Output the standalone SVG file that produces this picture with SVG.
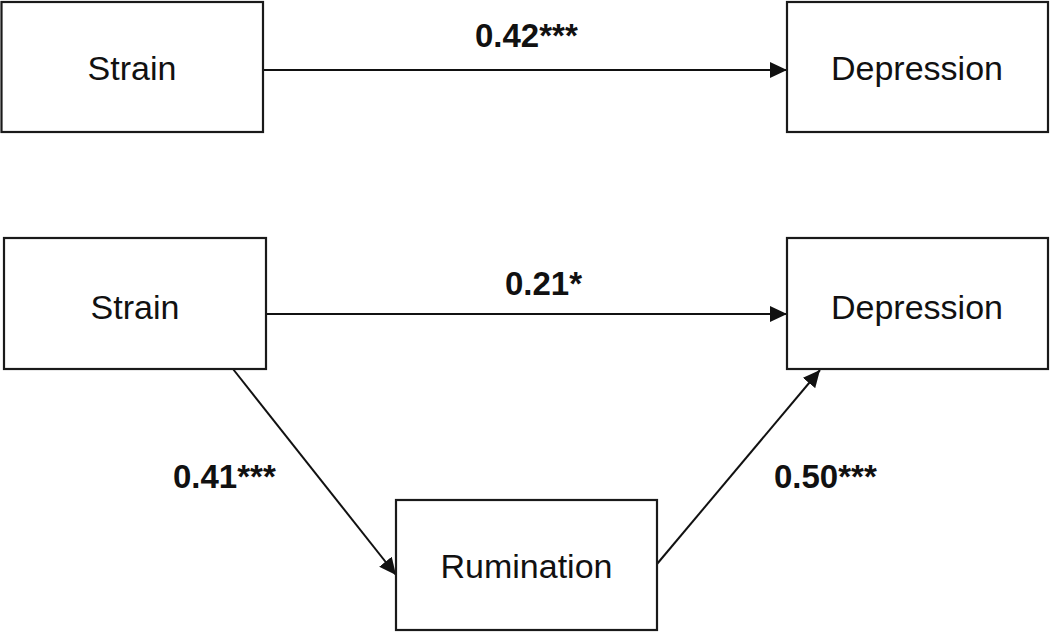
<svg xmlns="http://www.w3.org/2000/svg" width="1050" height="632" viewBox="0 0 1050 632">
<style>
.box{fill:#fff;stroke:#1a1a1a;stroke-width:2.2}
.lbl{font-family:"Liberation Sans",Arial,sans-serif;font-size:34px;fill:#111;text-anchor:middle}
.coef{font-family:"Liberation Sans",Arial,sans-serif;font-size:33px;font-weight:bold;fill:#111}
.edge{stroke:#111;stroke-width:2;fill:none;marker-end:url(#arr)}
</style>
<defs>
<marker id="arr" viewBox="0 0 17 16" refX="17" refY="8" markerWidth="17" markerHeight="16" markerUnits="userSpaceOnUse" orient="auto">
<path d="M0,0 L17,8 L0,16 z" fill="#111"/>
</marker>
</defs>
<rect width="1050" height="632" fill="#fff"/>
<g id="connectors">
<line class="edge" x1="263" y1="70" x2="787" y2="70"/>
<line class="edge" x1="266" y1="314" x2="787" y2="314"/>
<line class="edge" x1="233" y1="369" x2="396" y2="575"/>
<line class="edge" x1="657" y1="564" x2="820" y2="370"/>
<text class="coef" x="475" y="47">0.42***</text>
<text class="coef" x="505" y="295">0.21*</text>
<text class="coef" x="173" y="488">0.41***</text>
<text class="coef" x="774" y="488">0.50***</text>
</g>
<g id="strain1">
<rect class="box" x="1.5" y="2" width="261.5" height="130"/>
<text class="lbl" x="132" y="80">Strain</text>
</g>
<g id="depression1">
<rect class="box" x="787" y="2" width="261" height="130"/>
<text class="lbl" x="917" y="80">Depression</text>
</g>
<g id="strain2">
<rect class="box" x="4" y="238" width="262" height="131"/>
<text class="lbl" x="135" y="319">Strain</text>
</g>
<g id="depression2">
<rect class="box" x="787" y="238" width="261" height="131"/>
<text class="lbl" x="917" y="319">Depression</text>
</g>
<g id="rumination">
<rect class="box" x="396" y="500" width="261" height="130"/>
<text class="lbl" x="526.5" y="578">Rumination</text>
</g>
</svg>
